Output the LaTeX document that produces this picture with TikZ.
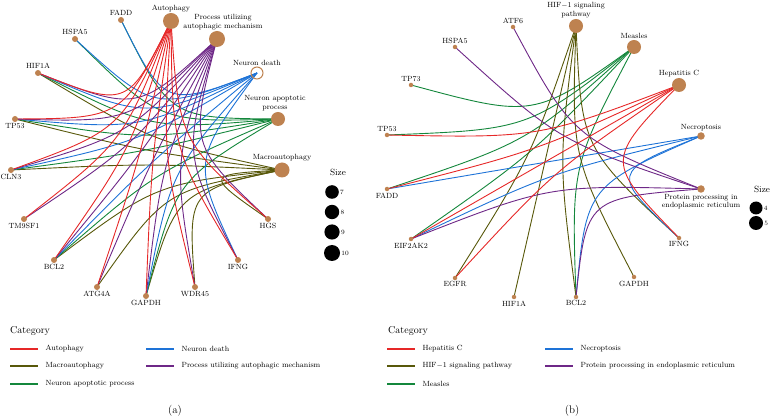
\documentclass[tikz,border=0pt]{standalone}
\usepackage{xcolor}
\usepackage{tikz}
\usetikzlibrary{positioning, calc, backgrounds}

\definecolor{cRed}{RGB}{230,40,40}
\definecolor{cOlive}{RGB}{88,88,10}
\definecolor{cGreen}{RGB}{20,135,60}
\definecolor{cBlue}{RGB}{30,115,215}
\definecolor{cPurple}{RGB}{110,40,135}
\definecolor{nodeBrown}{RGB}{190,130,80}

% curved edges of a gene-concept net, bent towards the ring centre
\newcommand\cnetedges[4]{%
  \foreach \g in {#4}{%
    \draw[#1] (\g.center) .. controls ($(\g)!.5!(#2)!.55!(#3)$) .. (#2.center);}}

\begin{document}
\begin{tikzpicture}[
    x=1pt, y=-1pt,
    lbl/.style={font=\fontsize{7.5}{8.5}\selectfont, align=center, inner sep=1pt},
    gene/.style={circle, fill=nodeBrown, inner sep=0pt, minimum size=6pt, label distance=0pt},
    sgene/.style={gene, minimum size=4.5pt},
    cat/.style={circle, fill=nodeBrown, inner sep=0pt, label distance=0pt},
    ring/.style={circle, draw=nodeBrown, line width=1pt, inner sep=0pt, minimum size=12pt, label distance=0pt},
    edge/.style={line width=0.9pt},
    legline/.style={line width=1.2pt},
    head/.style={font=\fontsize{10}{12}\selectfont, anchor=west, inner sep=0pt},
    keytxt/.style={font=\fontsize{7.5}{9}\selectfont, anchor=west, inner sep=0pt},
    sizedot/.style={circle, fill=black, inner sep=0pt},
    every label/.style={lbl},
]
\useasboundingbox (0,0) rectangle (773,419);

%% ---------------- panel (a)
\coordinate (ctrA) at (146,158);
\node[cat, minimum size=16pt, label=above:Autophagy] (aAuto) at (171,21) {};
\node[cat, minimum size=16pt, label={[xshift=6pt]above:{Process utilizing\\autophagic mechanism}}] (aProc) at (217,39) {};
\node[ring, label=above:Neuron death] (aNdeath) at (257,73) {};
\node[cat, minimum size=14pt, label={[xshift=-3pt]above:{Neuron apoptotic\\process}}] (aNapop) at (278,119) {};
\node[cat, minimum size=15pt, label=above:Macroautophagy] (aMacro) at (282,170) {};

\node[gene, label=above:FADD] (aFADD) at (121,20) {};
\node[gene, label=above:HSPA5] (aHSPA5) at (75,39) {};
\node[gene, label=above:HIF1A] (aHIF1A) at (38,73) {};
\node[gene, label=below:TP53] (aTP53) at (15,119) {};
\node[gene, label=below:CLN3] (aCLN3) at (11,170) {};
\node[gene, label=below:TM9SF1] (aTM9SF1) at (24,219) {};
\node[gene, label=below:BCL2] (aBCL2) at (54,260) {};
\node[gene, label=below:ATG4A] (aATG4A) at (97,287) {};
\node[gene, label=below:GAPDH] (aGAPDH) at (146,296) {};
\node[gene, label=below:WDR45] (aWDR45) at (195,287) {};
\node[gene, label=below:IFNG] (aIFNG) at (238,260) {};
\node[gene, label=below:HGS] (aHGS) at (268,219) {};

\begin{scope}[on background layer]
  \cnetedges{edge, cOlive}{aMacro}{ctrA}{aHIF1A,aTP53,aCLN3,aBCL2,aATG4A,aGAPDH,aWDR45,aHGS}
  \cnetedges{edge, cGreen}{aNapop}{ctrA}{aFADD,aHSPA5,aHIF1A,aTP53,aCLN3,aBCL2,aGAPDH}
  \cnetedges{edge, cBlue}{aNdeath}{ctrA}{aFADD,aHSPA5,aHIF1A,aTP53,aCLN3,aBCL2,aGAPDH,aIFNG}
  \cnetedges{edge, cPurple}{aProc}{ctrA}{aHIF1A,aTP53,aCLN3,aTM9SF1,aBCL2,aATG4A,aGAPDH,aWDR45,aIFNG,aHGS}
  \cnetedges{edge, cRed}{aAuto}{ctrA}{aHIF1A,aTP53,aCLN3,aTM9SF1,aBCL2,aATG4A,aGAPDH,aWDR45,aIFNG,aHGS}
\end{scope}

% size key (a)
\node[font=\fontsize{9}{10}\selectfont] (aSize) at (338,172) {Size};
\foreach \s/\r/\y in {7/6.8/192, 8/7.2/212, 9/7.6/232, 10/8/253}
  \node[sizedot, minimum size=2*\r pt, label={[lbl, font=\fontsize{6.5}{7}\selectfont]right:\s}] (aKey\s) at (332,\y) {};

% category key (a)
\node[head] (aCat) at (10,331) {Category};
\foreach \c/\t/\x/\y in {cRed/Autophagy/10/349, cOlive/Macroautophagy/10/366,
    cGreen/Neuron apoptotic process/10/384, cBlue/Neuron death/146/349,
    cPurple/Process utilizing autophagic mechanism/146/366}
  \draw[legline, \c] (\x,\y) -- ++(28,0) node[keytxt, black, right=7pt] {\t};
\node[font=\fontsize{11}{12}\selectfont] (aTag) at (175,411) {(a)};

%% ---------------- panel (b)
\coordinate (ctrB) at (544,161);
\node[cat, minimum size=14pt, label={above:{HIF$-$1 signaling\\pathway}}] (bHIF) at (576,26) {};
\node[cat, minimum size=14pt, label=above:Measles] (bMeas) at (634,47) {};
\node[cat, minimum size=14pt, label=above:Hepatitis C] (bHepC) at (679,85) {};
\node[cat, minimum size=7.5pt, label=above:Necroptosis] (bNecro) at (701,136) {};
\node[cat, minimum size=7.5pt, label={below:{Protein processing in\\endoplasmic reticulum}}] (bPP) at (701,189) {};

\node[sgene, label=above:ATF6] (bATF6) at (513,27) {};
\node[sgene, label=above:HSPA5] (bHSPA5) at (455,47) {};
\node[sgene, label=above:TP73] (bTP73) at (411,85) {};
\node[sgene, label=above:TP53] (bTP53) at (387,135) {};
\node[sgene, label=below:FADD] (bFADD) at (387,189) {};
\node[sgene, label=below:EIF2AK2] (bEIF) at (411,239) {};
\node[sgene, label=below:EGFR] (bEGFR) at (455,278) {};
\node[sgene, label=below:HIF1A] (bHIF1A) at (514,297) {};
\node[sgene, label=below:BCL2] (bBCL2) at (576,297) {};
\node[sgene, label=below:GAPDH] (bGAPDH) at (634,277) {};
\node[sgene, label=below:IFNG] (bIFNG) at (679,238) {};

\begin{scope}[on background layer]
  \cnetedges{edge, cGreen}{bMeas}{ctrB}{bTP73,bTP53,bFADD,bEIF,bBCL2}
  \cnetedges{edge, cOlive}{bHIF}{ctrB}{bEGFR,bHIF1A,bBCL2,bGAPDH,bIFNG}
  \cnetedges{edge, cBlue}{bNecro}{ctrB}{bFADD,bEIF,bBCL2,bIFNG}
  \cnetedges{edge, cPurple}{bPP}{ctrB}{bATF6,bHSPA5,bEIF,bBCL2}
  \cnetedges{edge, cRed}{bHepC}{ctrB}{bTP53,bFADD,bEIF,bEGFR,bIFNG}
\end{scope}

% size key (b)
\node[font=\fontsize{9}{10}\selectfont] (bSize) at (762,189) {Size};
\foreach \s/\r/\y in {4/6.5/208, 5/7/223}
  \node[sizedot, minimum size=2*\r pt, label={[lbl, font=\fontsize{6.5}{7}\selectfont]right:\s}] (bKey\s) at (756,\y) {};

% category key (b)
\node[head] (bCat) at (388,331) {Category};
\foreach \c/\t/\x/\y in {cRed/Hepatitis C/387/349, cOlive/HIF$-$1 signaling pathway/387/366,
    cGreen/Measles/387/384, cBlue/Necroptosis/545/349,
    cPurple/Protein processing in endoplasmic reticulum/545/366}
  \draw[legline, \c] (\x,\y) -- ++(28,0) node[keytxt, black, right=7pt] {\t};
\node[font=\fontsize{11}{12}\selectfont] (bTag) at (572,411) {(b)};
\end{tikzpicture}
\end{document}
